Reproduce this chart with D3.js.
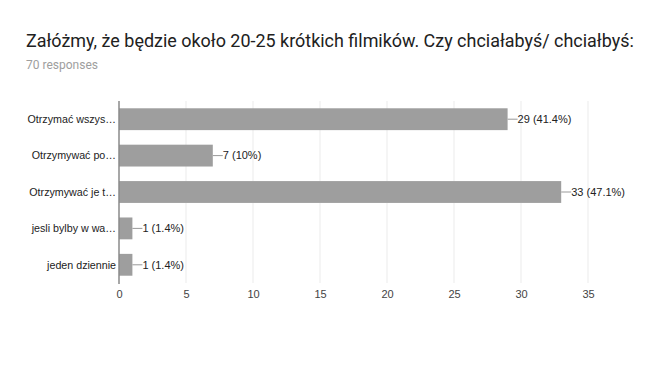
<!DOCTYPE html>
<html><head><meta charset="utf-8">
<script src="https://cdn.jsdelivr.net/npm/d3@7"></script>
<style>body{margin:0;background:#fff;}svg{display:block;}</style>
</head><body>
<script>
const categories = ["Otrzymać wszys…", "Otrzymywać po…", "Otrzymywać je t…", "jesli bylby w wa…", "jeden dziennie"];
const values = [29, 7, 33, 1, 1];
const percents = ["41.4%", "10%", "47.1%", "1.4%", "1.4%"];
const ticks = [0, 5, 10, 15, 20, 25, 30, 35];
const title = "Załóżmy, że będzie około 20-25 krótkich filmików. Czy chciałabyś/ chciałbyś:";
const subtitle = "70 responses";

const W = 654, H = 376;
const svg = d3.select("body").append("svg").attr("width", W).attr("height", H);
svg.append("rect").attr("width", W).attr("height", H).attr("fill", "#fff");

const t = svg.append("text").attr("x", 26).attr("y", 47).text(title)
  .attr("font-family", "Roboto").attr("font-size", 16).attr("fill", "#212121");
const tw = t.node().getComputedTextLength();
if (tw > 0) t.attr("font-size", 16 * 608 / tw);
svg.append("text").attr("x", 26).attr("y", 69).text(subtitle)
  .attr("font-family", "Roboto").attr("font-size", 12).attr("fill", "#9e9e9e");

const x = d3.scaleLinear().domain([0, 35]).range([119, 588]);
const y = d3.scaleBand().domain(categories).range([101, 283]).paddingInner(0.4).paddingOuter(0.2);

const font = "Liberation Sans, Arial, sans-serif";

// gridlines
svg.append("g").selectAll("line").data(ticks.slice(1)).join("line")
  .attr("x1", d => x(d)).attr("x2", d => x(d)).attr("y1", 101).attr("y2", 283)
  .attr("stroke", "#ebebeb").attr("stroke-width", 1);

// bars
svg.append("g").selectAll("rect").data(values).join("rect")
  .attr("x", x(0)).attr("y", (d, i) => y(categories[i]))
  .attr("width", d => x(d) - x(0)).attr("height", y.bandwidth())
  .attr("fill", "#9e9e9e");

// axis line
svg.append("line").attr("x1", x(0)).attr("x2", x(0)).attr("y1", 101).attr("y2", 284)
  .attr("stroke", "#8a8a8a").attr("stroke-width", 1.5);

// category labels
svg.append("g").selectAll("text").data(categories).join("text")
  .attr("x", 116).attr("y", d => y(d) + y.bandwidth() / 2).attr("dy", "0.35em")
  .attr("text-anchor", "end").attr("font-family", font).attr("font-size", 10.7).attr("fill", "#222")
  .text(d => d);

// leader lines and value labels
const g = svg.append("g");
values.forEach((v, i) => {
  const cy = y(categories[i]) + y.bandwidth() / 2;
  g.append("line").attr("x1", x(v)).attr("x2", x(v) + 10).attr("y1", cy).attr("y2", cy)
    .attr("stroke", "#999").attr("stroke-width", 1);
  g.append("text").attr("x", x(v) + 10).attr("y", cy).attr("dy", "0.35em")
    .attr("font-family", font).attr("font-size", 11).attr("fill", "#222")
    .text(`${v} (${percents[i]})`);
});

// x axis tick labels
const ax = svg.append("g").attr("transform", "translate(0,290)")
  .call(d3.axisBottom(x).tickValues(ticks).tickSize(0).tickPadding(0));
ax.select(".domain").remove();
ax.selectAll("text").attr("font-family", font).attr("font-size", 11).attr("fill", "#444");
</script>
</body></html>
